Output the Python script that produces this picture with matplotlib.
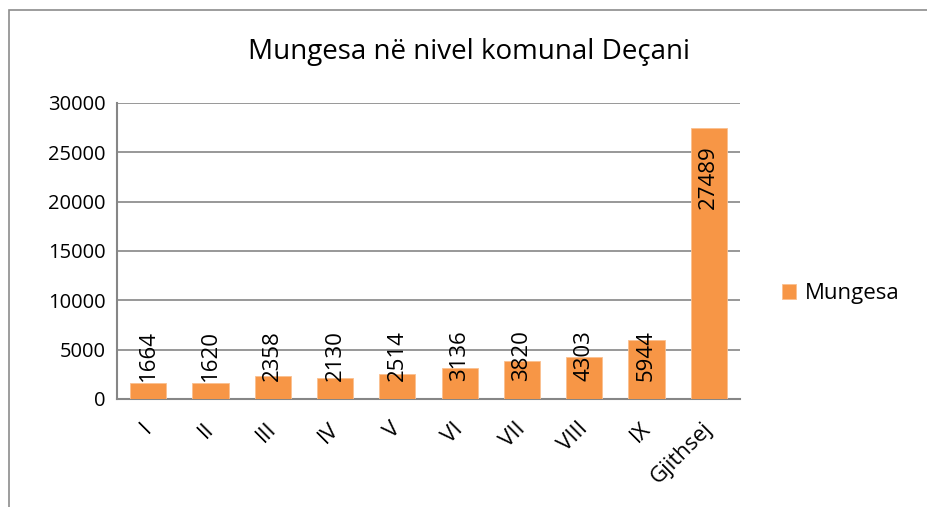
import matplotlib
matplotlib.use("Agg")
import matplotlib.pyplot as plt
from matplotlib.patches import Rectangle

# data
categories = ['I', 'II', 'III', 'IV', 'V', 'VI', 'VII', 'VIII', 'IX', 'Gjithsej']
mungesa = [1664, 1620, 2358, 2130, 2514, 3136, 3820, 4303, 5944, 27489]
yticks = [0, 5000, 10000, 15000, 20000, 25000, 30000]

bar_color = '#F79646'
grid_color = '#868686'
font = 'Open Sans'

fig = plt.figure(figsize=(9.28, 5.07), dpi=100)
ax = fig.add_axes([117/928, 108/507, 623/928, 296/507])

# outer frame of the chart (partly cut off at right/bottom)
fig.patches.append(Rectangle((9/928, -0.1), 1.2, (497/507) + 0.1, transform=fig.transFigure,
                             fill=False, edgecolor='#8c8c8c', linewidth=1.2))

x = range(len(categories))
bars = ax.bar(x, mungesa, width=0.58, color=bar_color, edgecolor='#FAC090', linewidth=0.6,
              label='Mungesa', zorder=3)

# data labels, rotated
for xi, v in zip(x, mungesa):
    if v > 10000:
        ax.text(xi, v - 1750, str(v), rotation=90, ha='center', va='top',
                fontsize=16, family=font, zorder=4)
    else:
        ax.text(xi, 1800, str(v), rotation=90, ha='center', va='bottom',
                fontsize=16, family=font, zorder=4)

ax.set_xlim(-0.5, len(categories) - 0.5)
ax.set_ylim(0, 30000)
ax.set_yticks(yticks)
ax.set_yticklabels([str(t) for t in yticks], family=font, fontsize=14.5)
# shift tick anchors a bit left so the rotated labels sit under the bars
ax.set_xticks([xi - 0.11 for xi in x])
ax.set_xticklabels(categories, rotation=45, ha='right', rotation_mode='anchor',
                   family=font, fontsize=16)
ax.tick_params(axis='y', length=0, pad=8)
ax.tick_params(axis='x', length=0, pad=14)

ax.yaxis.grid(True, color=grid_color, linewidth=1.2, zorder=0)
for s in ['top', 'right']:
    ax.spines[s].set_visible(False)
for s in ['left', 'bottom']:
    ax.spines[s].set_color(grid_color)
    ax.spines[s].set_linewidth(1.5)

fig.text(0.505, 0.897, 'Mungesa në nivel komunal Deçani', ha='center', va='center',
         fontsize=20, family=font)

fig.legend(handles=[bars], labels=['Mungesa'], loc='center left',
           bbox_to_anchor=(762/928, 1 - 294/507), frameon=False,
           prop={'family': font, 'size': 16}, handlelength=0.65, handleheight=0.65,
           handletextpad=0.4)

fig.savefig('out.png', dpi=100)
